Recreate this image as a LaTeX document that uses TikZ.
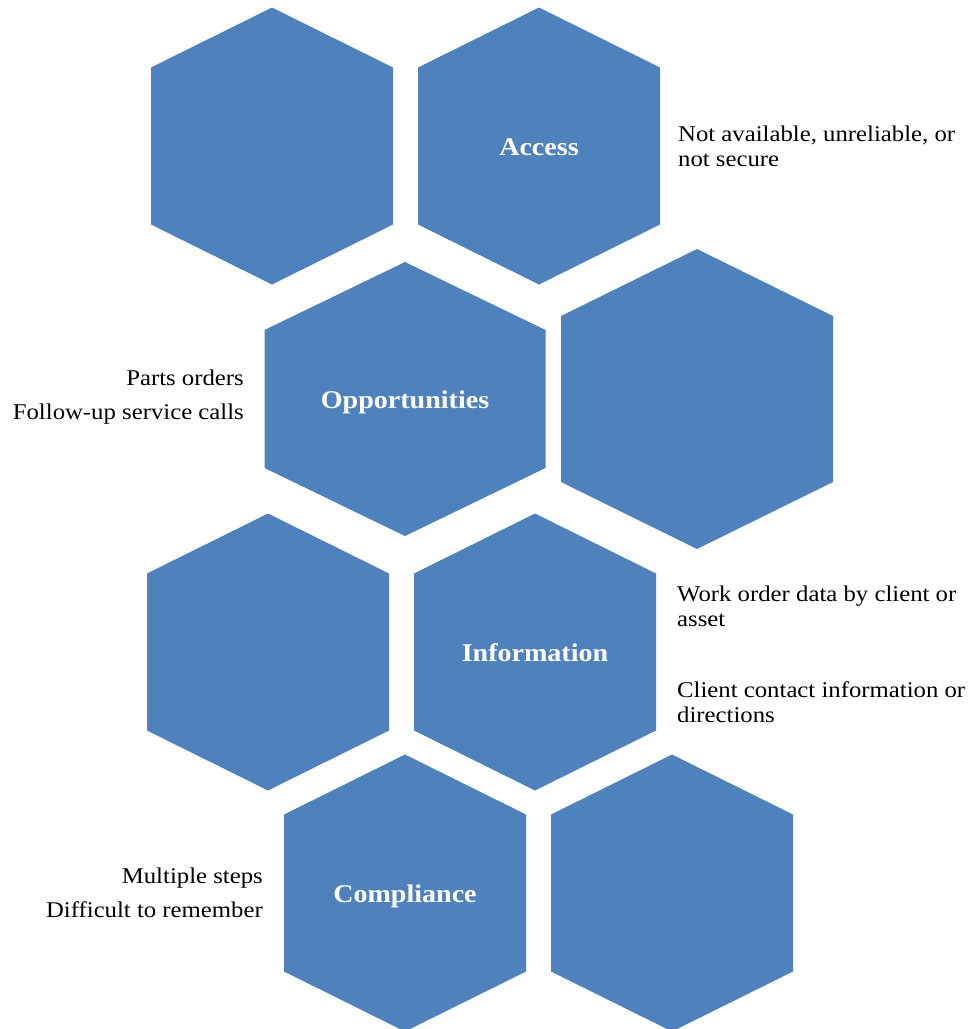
\documentclass[tikz,border=0pt]{standalone}
\usepackage{fontspec}
\setmainfont{Liberation Serif}[FakeStretch=1.1]
\usepackage{tikz}
\definecolor{hexblue}{RGB}{79,129,189}
\pgfkeys{%
/hexcell/.cd,
half width/.code  =  {\def\hexcellhw{#1}},
half height/.code =  {\def\hexcellhh{#1}},
shoulder/.code    =  {\def\hexcellsh{#1}},
name/.code        =  {\def\hexcellname{#1}}}
\newcommand\hexcell[2][]{%
   \pgfkeys{/hexcell/.cd,
     half width  = 121,
     half height = 138.5,
     shoulder    = 60,
     name        = hc}
  \pgfqkeys{/hexcell}{#1}
  \coordinate (\hexcellname) at (#2);
  % pointy top, drawn clockwise from the top corner
  \fill[hexblue] (\hexcellname) ++(0,-\hexcellhh)
        -- ++(\hexcellhw,\hexcellsh)
        -- ++(0,2*\hexcellhh-2*\hexcellsh)
        -- ++(-\hexcellhw,\hexcellsh)
        -- ++(-\hexcellhw,-\hexcellsh)
        -- ++(0,-2*\hexcellhh+2*\hexcellsh)
        -- cycle;
}

\begin{document}
\begin{tikzpicture}[x=1pt,y=-1pt,
   hexlabel/.style={text=white,anchor=base,yshift=-9pt,
                    font=\fontsize{25.5}{30}\selectfont\bfseries},
   note/.style={inner sep=0pt,font=\fontsize{22.5}{25}\selectfont}]
   \useasboundingbox (0,0) rectangle (977,1029);
   \hexcell[name=blank nw]{272,146}
   \hexcell[name=access]{539,146}
   \hexcell[name=opps, half width=140.5, half height=137, shoulder=68]{405,399}
   \hexcell[name=blank e, half width=136, half height=150, shoulder=67]{697,399}
   \hexcell[name=blank w]{268,652}
   \hexcell[name=info]{535,652}
   \hexcell[name=compl]{405,893}
   \hexcell[name=blank se]{672,893}

   \node[hexlabel] (access label) at (access) {Access};
   \node[hexlabel] (opps label)   at (opps)   {Opportunities};
   \node[hexlabel] (info label)   at (info)   {Information};
   \node[hexlabel] (compl label)  at (compl)  {Compliance};

   % base of a multi-line note is its last line
   \node[note,anchor=base west,align=left]  (access note) at (678,166)
        {Not available, unreliable, or\\not secure};
   \node[note,anchor=base east,align=right] (opps note)   at (244,419)
        {Parts orders\\[9pt]Follow-up service calls};
   \node[note,anchor=base west,align=left]  (info note a) at (677,626)
        {Work order data by client or\\asset};
   \node[note,anchor=base west,align=left]  (info note b) at (677,722)
        {Client contact information or\\directions};
   \node[note,anchor=base east,align=right] (compl note)  at (263,917)
        {Multiple steps\\[9pt]Difficult to remember};
\end{tikzpicture}
\end{document}
